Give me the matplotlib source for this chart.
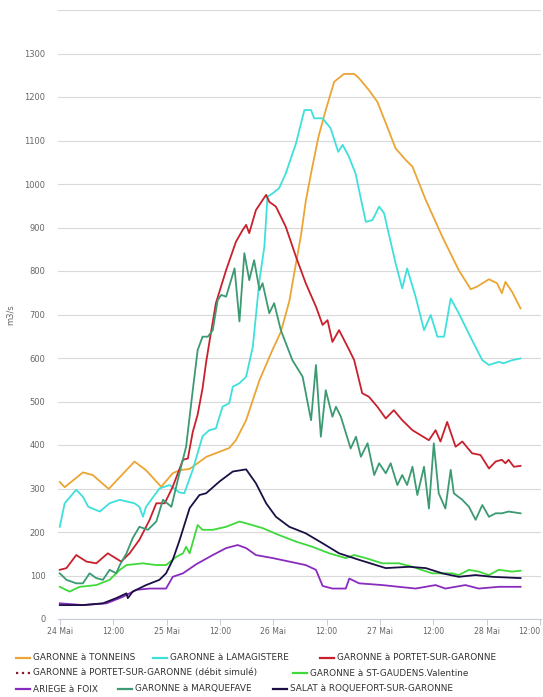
import matplotlib
matplotlib.use("Agg")
import matplotlib.pyplot as plt
from matplotlib.lines import Line2D

# hours since 24 Mai 00:00, flow in m3/s
tonneins_h = [0, 1.1, 5.2, 7.4, 11.0, 16.8, 19.4, 22.8, 25.4, 26.9, 29.2, 33.0, 38.1, 39.6, 41.9, 44.9,
              47.8, 49.7, 51.6, 52.8, 54.2, 55.3, 56.6, 58.2, 59.8, 61.7, 63.9, 66.2, 67.3, 69.5, 71.4,
              73.3, 75.5, 77.8, 79.3, 82.3, 86.0, 89.7, 92.4, 93.8, 96.5, 98.3, 99.4, 100.2, 101.7, 103.6]
tonneins_q = [315, 303, 337, 331, 299, 362, 342, 304, 335, 342, 345, 373, 393, 411, 457, 549,
              618, 660, 730, 800, 880, 960, 1030, 1110, 1170, 1235, 1253, 1253, 1243, 1216, 1189,
              1140, 1082, 1055, 1040, 963, 879, 802, 758, 764, 781, 772, 749, 775, 752, 714]

lamagistere_h = [0, 1.1, 3.7, 5.2, 6.4, 9.0, 11.2, 13.5, 16.8, 17.9, 18.7, 19.4, 22.4, 24.7, 26.9, 28.0,
                 29.9, 32.1, 33.6, 35.1, 36.6, 38.1, 38.9, 40.4, 41.9, 43.4, 44.9, 46.0, 46.7, 47.8,
                 49.3, 50.8, 53.1, 55.0, 56.5, 57.2, 59.1, 60.9, 62.6, 63.6, 65.0, 66.5, 68.8, 70.3,
                 71.8, 72.9, 75.5, 77.0, 78.1, 80.0, 81.9, 83.4, 84.9, 86.4, 87.9, 89.7, 92.7, 95.0,
                 96.5, 98.7, 99.8, 101.7, 103.6]
lamagistere_q = [212, 266, 297, 281, 258, 247, 266, 274, 266, 258, 235, 258, 300, 308, 291, 289,
                 343, 420, 434, 438, 488, 496, 534, 542, 557, 626, 779, 856, 971, 978,
                 990, 1024, 1093, 1170, 1170, 1151, 1151, 1128, 1074, 1090, 1063, 1024, 913, 917,
                 948, 933, 818, 760, 806, 741, 664, 699, 649, 649, 737, 703, 641, 595,
                 584, 591, 588, 595, 599]

portet_h = [0, 1.5, 3.7, 6.0, 8.2, 10.8, 13.8, 15.7, 17.9, 20.2, 21.7, 23.6, 25.4, 27.7, 28.8, 29.9,
            31.0, 32.1, 32.9, 33.6, 35.1, 37.4, 39.6, 41.1, 41.9, 42.6, 44.1, 45.6, 46.4, 47.1, 48.6,
            50.8, 53.1, 55.3, 57.6, 59.1, 60.2, 61.3, 62.8, 65.1, 66.2, 68.0, 69.5, 71.4, 73.3, 75.1,
            77.0, 79.3, 83.0, 84.5, 85.6, 87.1, 89.0, 90.5, 92.7, 94.6, 96.5, 98.0, 99.4, 100.2,
            100.9, 102.1, 103.6]
portet_q = [113, 117, 147, 132, 128, 151, 132, 151, 182, 228, 266, 266, 304, 366, 369, 430,
            470, 530, 590, 634, 726, 802, 867, 894, 906, 887, 940, 963, 975, 959, 948,
            902, 833, 772, 718, 676, 687, 637, 664, 618, 595, 519, 511, 488, 461, 480,
            457, 434, 411, 434, 408, 453, 396, 408, 381, 377, 346, 362, 366, 358,
            366, 350, 352]

# simulated series: listed in the legend, no visible points on the chart
portet_sim_h = []
portet_sim_q = []

gaudens_h = [0, 2.2, 4.5, 8.2, 11.2, 13.5, 15.0, 18.7, 21.7, 23.9, 26.2, 27.7, 28.4, 29.2, 31.0, 32.1,
             34.4, 37.4, 40.4, 41.9, 45.6, 49.3, 53.1, 56.8, 60.6, 64.3, 66.2, 68.8, 72.5, 76.3,
             79.3, 83.7, 88.2, 89.7, 92.0, 94.2, 96.5, 98.7, 101.7, 103.6]
gaudens_q = [74, 63, 74, 78, 90, 113, 124, 128, 124, 124, 143, 151, 166, 151, 216, 205,
             205, 212, 224, 220, 209, 193, 178, 166, 151, 140, 147, 140, 128, 128,
             120, 105, 105, 101, 113, 109, 101, 113, 109, 111]

foix_h = [0, 5.2, 10.5, 14.2, 17.2, 20.2, 23.9, 25.4, 27.7, 30.7, 34.4, 37.4, 40.0, 41.9, 44.1, 47.9,
          51.6, 55.3, 57.6, 59.1, 61.3, 64.3, 65.1, 67.3, 72.5, 80.0, 84.5, 86.7, 91.2, 94.2, 98.7, 103.6]
foix_q = [36, 32, 36, 51, 67, 70, 70, 97, 105, 126, 147, 163, 170, 163, 147, 140,
          132, 124, 113, 76, 70, 70, 93, 82, 78, 70, 78, 70, 78, 70, 74, 74]

marquefave_h = [0, 1.5, 3.7, 5.2, 6.7, 8.2, 9.7, 11.2, 12.7, 13.5, 15.0, 16.4, 17.9, 19.8, 21.7, 23.2,
                25.1, 26.9, 28.4, 29.9, 31.0, 32.1, 33.3, 34.4, 35.5, 36.3, 37.4, 39.3, 40.4, 41.5,
                42.6, 43.7, 44.9, 45.6, 47.1, 48.2, 49.7, 52.3, 54.6, 56.5, 57.6, 58.7, 59.8, 61.3,
                62.1, 63.2, 65.4, 66.6, 67.7, 69.2, 70.7, 71.8, 73.3, 74.4, 75.9, 77.0, 78.1, 79.3,
                80.4, 81.9, 83.0, 84.1, 85.2, 86.7, 87.9, 88.6, 90.5, 92.0, 93.5, 95.0, 96.5, 98.0,
                99.4, 100.9, 103.6]
marquefave_q = [105, 90, 82, 82, 105, 94, 90, 113, 105, 124, 151, 186, 212, 205, 224, 274,
                258, 335, 396, 526, 618, 649, 649, 664, 733, 745, 741, 806, 684, 841,
                779, 825, 756, 772, 703, 726, 664, 595, 557, 457, 584, 419, 526, 465,
                488, 465, 392, 419, 373, 404, 331, 358, 335, 358, 308, 331, 308, 350,
                285, 350, 254, 404, 289, 254, 343, 289, 274, 258, 228, 262, 235, 243,
                243, 247, 243]

salat_h = [0, 5.2, 9.7, 12.7, 15.0, 15.3, 16.4, 19.4, 22.4, 23.9, 25.4, 26.9, 29.2, 31.4, 32.9, 35.9,
           38.9, 41.9, 44.1, 46.4, 48.6, 51.6, 55.3, 59.1, 62.8, 67.3, 73.3, 78.5, 82.3, 86.0,
           89.7, 93.5, 97.2, 103.6]
salat_q = [32, 32, 36, 48, 59, 48, 63, 78, 90, 105, 136, 180, 255, 285, 289, 316,
           339, 344, 312, 266, 235, 212, 197, 174, 151, 136, 117, 120, 117, 105,
           97, 101, 97, 94]

tick_hours = [0, 12, 24, 36, 48, 60, 72, 84, 96, 108]
tick_labels = ["24 Mai", "12:00", "25 Mai", "12:00", "26 Mai", "12:00", "27 Mai", "12:00", "28 Mai", "12:00"]

W, H = 543, 697
fig = plt.figure(figsize=(W / 100, H / 100), dpi=100)
ax = fig.add_axes([58 / W, 1 - 619 / H, (541 - 58) / W, (619 - 10) / H])

series = [
    ("GARONNE à TONNEINS", tonneins_h, tonneins_q, "#eba534", "-"),
    ("GARONNE à LAMAGISTERE", lamagistere_h, lamagistere_q, "#3ee0dc", "-"),
    ("GARONNE à PORTET-SUR-GARONNE", portet_h, portet_q, "#c8202c", "-"),
    ("GARONNE à PORTET-SUR-GARONNE (débit simulé)", portet_sim_h, portet_sim_q, "#8b1a2a", ":"),
    ("GARONNE à ST-GAUDENS.Valentine", gaudens_h, gaudens_q, "#3fd93a", "-"),
    ("ARIEGE à FOIX", foix_h, foix_q, "#8a2bbf", "-"),
    ("GARONNE à MARQUEFAVE", marquefave_h, marquefave_q, "#3c9a72", "-"),
    ("SALAT à ROQUEFORT-SUR-GARONNE", salat_h, salat_q, "#1c0f45", "-"),
]

for name, hh, qq, col, ls in series:
    ax.plot(hh, qq, color=col, linestyle=ls, linewidth=1.3, label=name)

ax.set_xlim(-0.4, 108.2)
ax.set_ylim(0, 1400)
ax.set_yticks(range(0, 1500, 100))
ax.set_yticklabels([str(v) if v < 1400 else "" for v in range(0, 1500, 100)])
ax.set_xticks(tick_hours)
ax.set_xticklabels(tick_labels)
# last label kept inside the picture, as the original does
ax.get_xticklabels()[-1].set_horizontalalignment("right")
ax.grid(axis="y", color="#d9d9d9", linewidth=0.8)
ax.set_axisbelow(True)
for s in ["top", "right", "left"]:
    ax.spines[s].set_visible(False)
ax.spines["bottom"].set_color("#c8ccd4")
ax.spines["bottom"].set_linewidth(0.8)
ax.tick_params(axis="y", length=0, pad=9, labelsize=6, labelcolor="#666666")
ax.tick_params(axis="x", length=4, width=0.7, color="#c8ccd4", pad=2, labelsize=5.6, labelcolor="#666666")
ax.set_ylabel("m3/s", fontsize=6, color="#666666", labelpad=7)

# legend laid out like the source (rows of different widths)
legend_pos = [(16, 658), (153, 658), (320, 658), (16, 673), (293, 673), (16, 689), (118, 689), (273, 689)]
for (name, hh, qq, col, ls), (px, py) in zip(series, legend_pos):
    fy = 1 - py / H
    fig.add_artist(Line2D([px / W, (px + 14) / W], [fy, fy], transform=fig.transFigure,
                          color=col, linestyle=ls, linewidth=1.6))
    fig.text((px + 17) / W, fy, name, fontsize=6.4, color="#333333", va="center", ha="left")

fig.savefig("out.png", dpi=100)
